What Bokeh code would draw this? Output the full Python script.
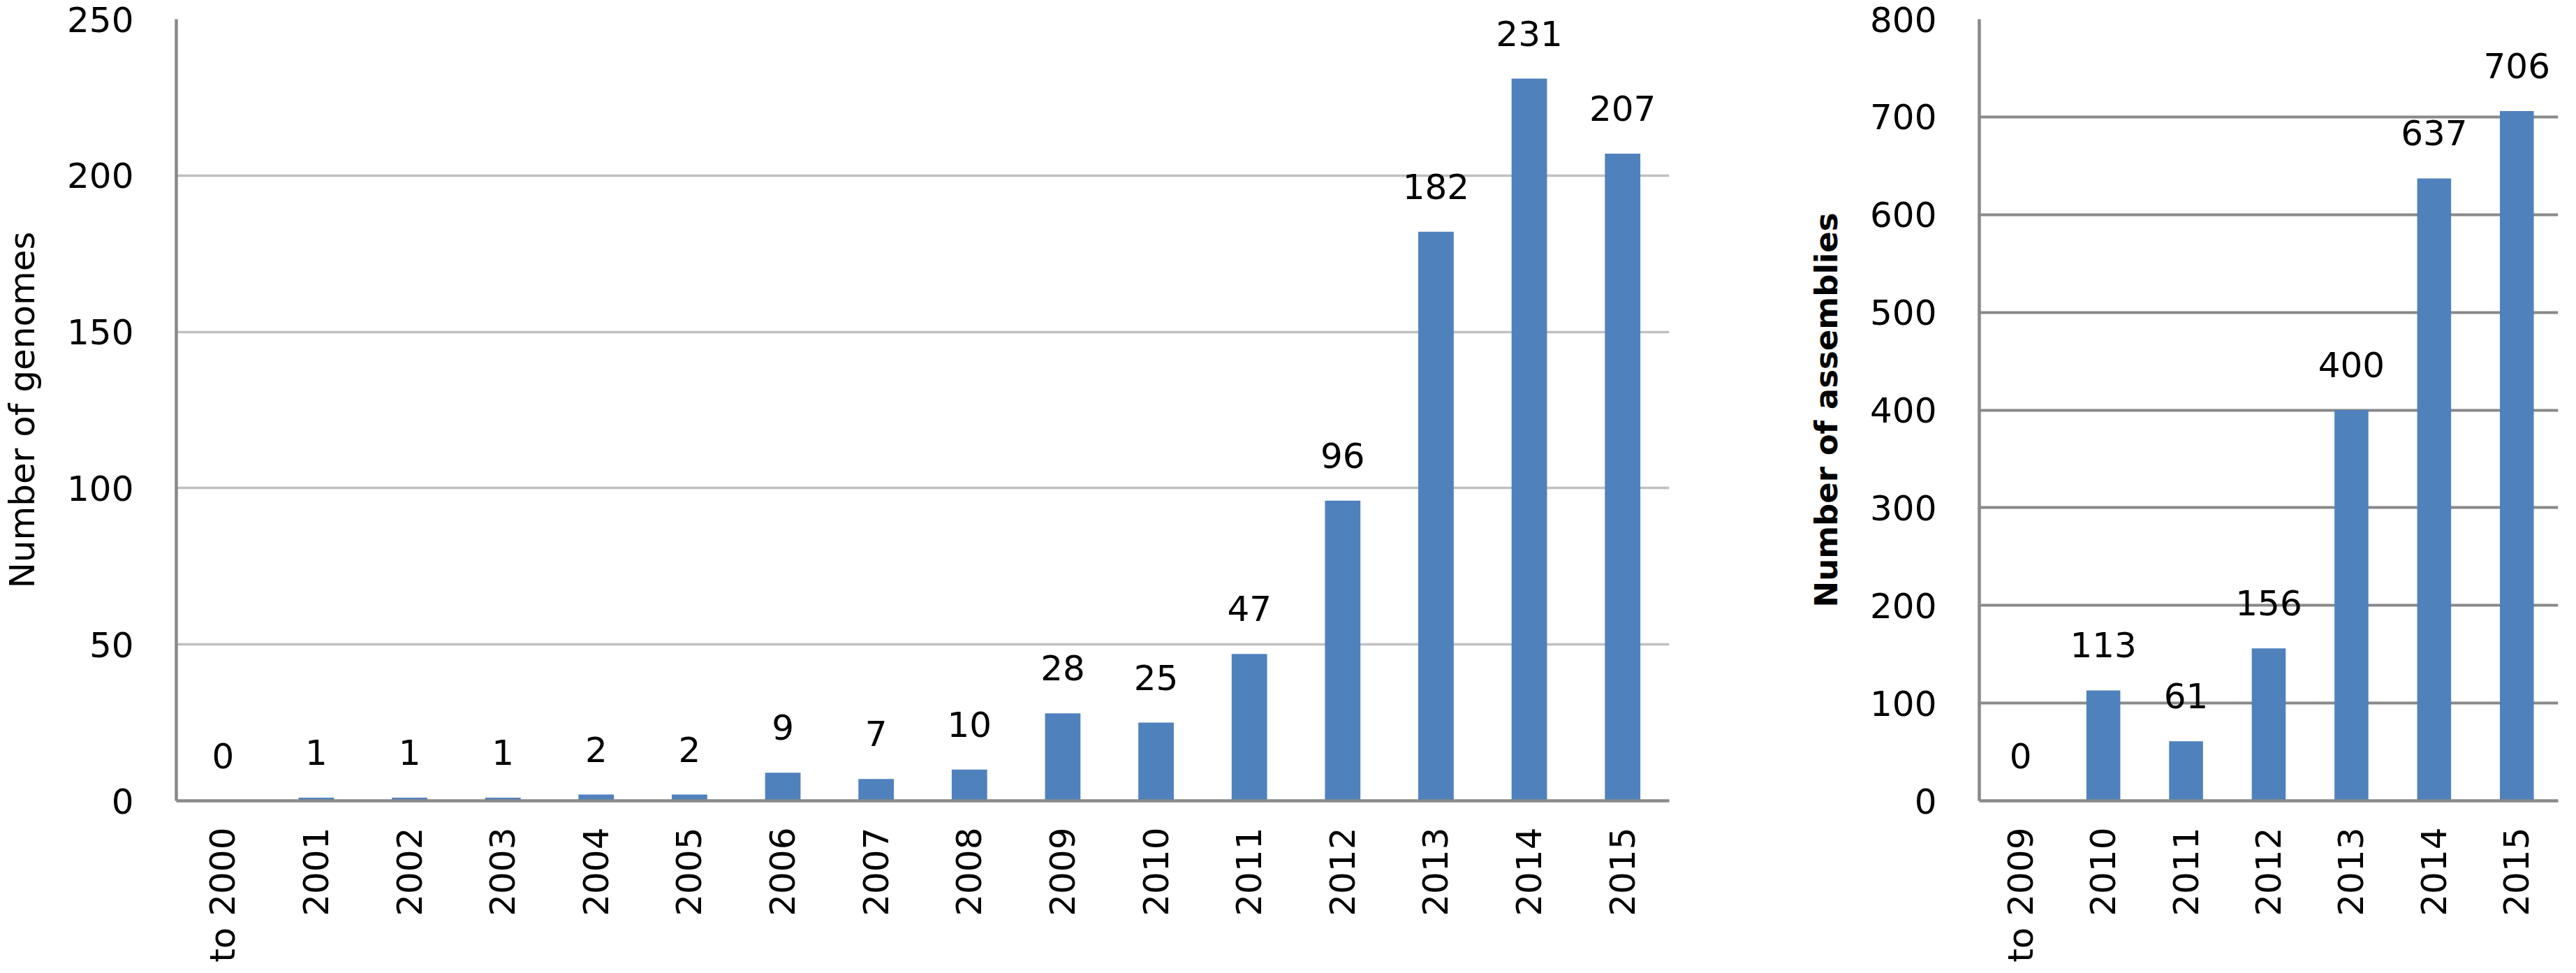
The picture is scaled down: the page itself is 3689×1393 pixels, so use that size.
import math
from bokeh.plotting import figure
from bokeh.models import FactorRange, Range1d, LabelSet, ColumnDataSource, FixedTicker
from bokeh.layouts import row
from bokeh.core.properties import value
from bokeh.embed import file_html
from bokeh.resources import INLINE

# ---- data ----
genome_years = ["to 2000", "2001", "2002", "2003", "2004", "2005", "2006", "2007",
                "2008", "2009", "2010", "2011", "2012", "2013", "2014", "2015"]
genome_counts = [0, 1, 1, 1, 2, 2, 9, 7, 10, 28, 25, 47, 96, 182, 231, 207]
genome_ticks = [0, 50, 100, 150, 200, 250]

assembly_years = ["to 2009", "2010", "2011", "2012", "2013", "2014", "2015"]
assembly_counts = [0, 113, 61, 156, 400, 637, 706]
assembly_ticks = [0, 100, 200, 300, 400, 500, 600, 700, 800]

BAR = "#4F81BD"
AXIS = "#898989"
FONT = "DejaVu Sans"


def make_chart(cats, vals, ticks, ymax, ylabel, bold, grid_color, grid_w,
               bar_w, frame_w, left_b, right_b, title_size, title_standoff):
    p = figure(x_range=FactorRange(factors=cats, range_padding=0),
               y_range=Range1d(0, ymax),
               frame_width=frame_w, frame_height=1119,
               min_border_left=left_b, min_border_right=right_b,
               min_border_top=27, min_border_bottom=0,
               output_backend="svg", toolbar_location=None)
    src = ColumnDataSource(dict(x=cats, top=vals, label=[str(v) for v in vals]))
    p.vbar(x="x", top="top", width=bar_w, source=src, fill_color=BAR, line_color=None)
    labels = LabelSet(x="x", y="top", text="label", source=src,
                      text_align="center", text_baseline="alphabetic",
                      y_offset=47, text_font_size=value("50px"), text_font=value(FONT),
                      text_color="black")
    p.add_layout(labels)

    p.outline_line_color = None
    p.background_fill_color = "white"
    p.border_fill_color = "white"
    p.xgrid.grid_line_color = None
    p.ygrid.grid_line_color = grid_color
    p.ygrid.grid_line_width = grid_w

    for ax in (p.xaxis, p.yaxis):
        ax.axis_line_color = AXIS
        ax.axis_line_width = 4.5
        ax.major_tick_in = 0
        ax.major_tick_out = 0
        ax.minor_tick_in = 0
        ax.minor_tick_out = 0
        ax.major_label_text_font = FONT
        ax.major_label_text_font_size = "50px"
        ax.major_label_text_color = "black"

    p.yaxis.ticker = FixedTicker(ticks=ticks)
    p.yaxis.major_label_standoff = 61
    p.yaxis.axis_label = ylabel
    p.yaxis.axis_label_text_font = FONT
    p.yaxis.axis_label_text_font_size = title_size
    p.yaxis.axis_label_text_font_style = "bold" if bold else "normal"
    p.yaxis.axis_label_text_color = "black"
    p.yaxis.axis_label_standoff = title_standoff

    p.xaxis.major_label_orientation = math.pi / 2
    p.xaxis.major_label_standoff = 38
    return p


p1 = make_chart(genome_years, genome_counts, genome_ticks, 250, "Number of genomes",
                False, "#c0c0c0", 3.5, 0.38, 2138, 248, 74, "50px", 32)
p2 = make_chart(assembly_years, assembly_counts, assembly_ticks, 800, "Number of assemblies",
                True, AXIS, 4, 0.41, 829, 370, 14, "45px", 33)

p = row(p1, p2, spacing=0)

with open("out.html", "w") as f:
    f.write(file_html(p, INLINE))
